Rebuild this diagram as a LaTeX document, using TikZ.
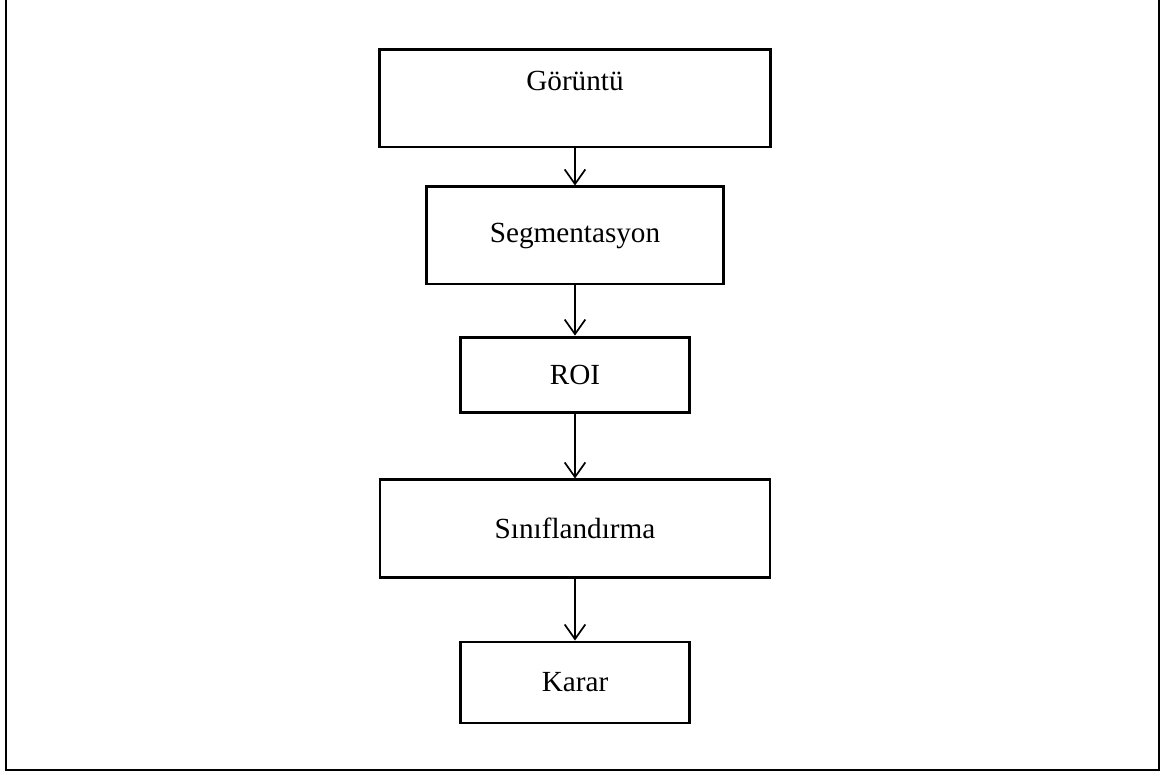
\documentclass[tikz,border=0pt]{standalone}
\usepackage{fontspec}
\setmainfont{Liberation Serif}
\usetikzlibrary{arrows.meta}

\begin{document}
\begin{tikzpicture}[x = 0.411pt, y = -0.411pt, > = {Straight Barb[length=6pt, width=8.5pt]},
	stepbox/.style = {draw, line width = 1.2pt, align = center,
		font = \fontsize{12}{14.5}\selectfont},
	flow/.style = {->, line width = 0.7pt}]

	\useasboundingbox (0, 0) rectangle (1171, 774);
	\draw [line width = 1.2pt] (6, -5) -- (6, 770) -- (1159, 770) -- (1159, -5);

	\node [stepbox, minimum width = 160.7pt, minimum height = 39.9pt] (img) at (575, 98.5) {Görüntü\\\phantom{G}};
	\node [stepbox, minimum width = 121.7pt, minimum height = 39.9pt] (seg) at (575, 235.5) {Segmentasyon};
	\node [stepbox, minimum width = 94.1pt, minimum height = 31.2pt] (roi) at (575, 375) {ROI};
	\node [stepbox, minimum width = 160.3pt, minimum height = 39.9pt] (cls) at (575, 528.5) {Sınıflandırma};
	\node [stepbox, minimum width = 94.1pt, minimum height = 33.3pt] (dec) at (575, 682.5) {Karar};

	\draw [flow] (img) -- (seg);
	\draw [flow] (seg) -- (roi);
	\draw [flow] (roi) -- (cls);
	\draw [flow] (cls) -- (dec);

\end{tikzpicture}
\end{document}
